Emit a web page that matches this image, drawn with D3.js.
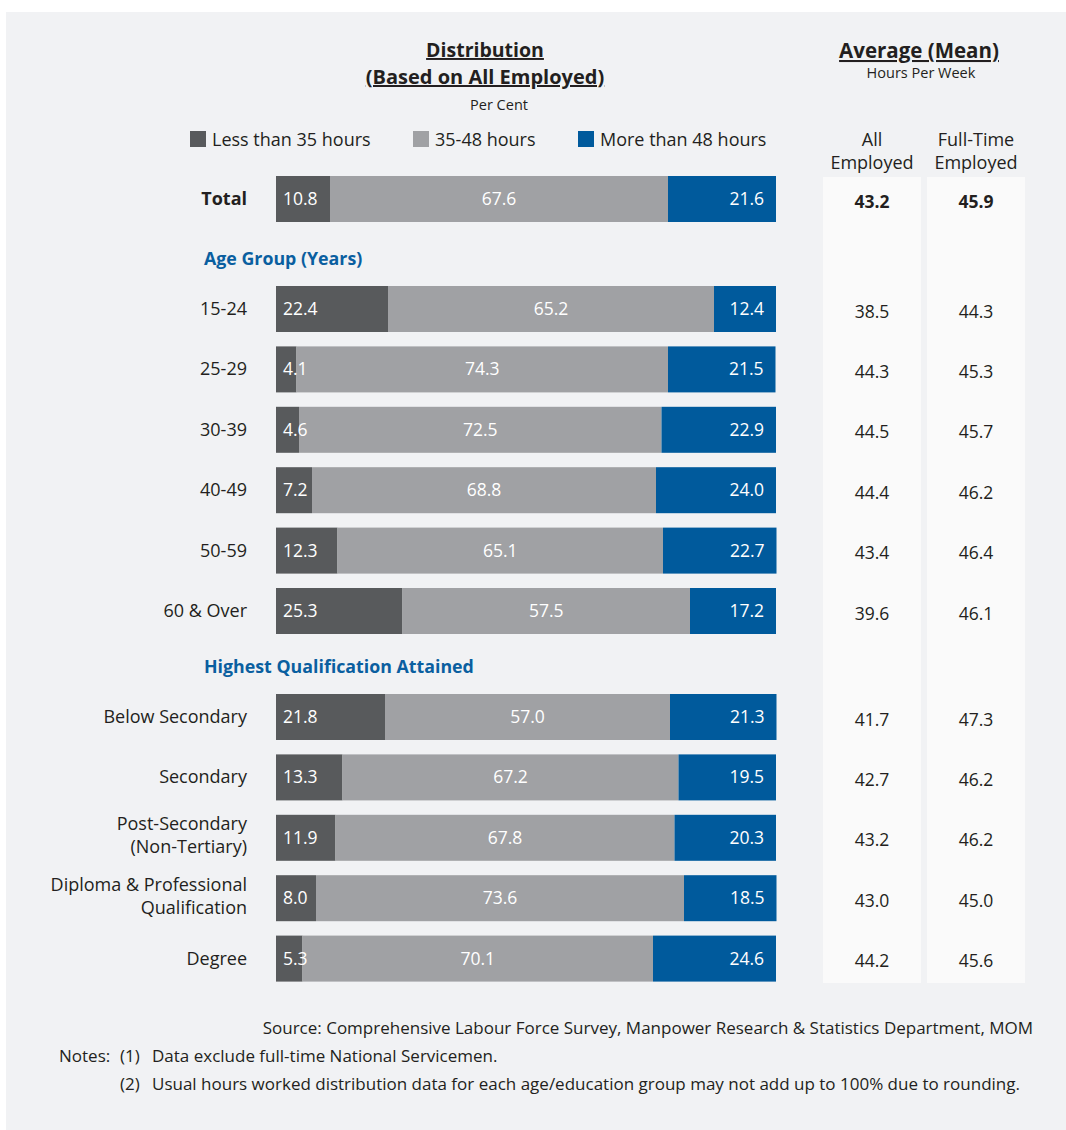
<!DOCTYPE html>
<html><head><meta charset="utf-8">
<script src="https://cdn.jsdelivr.net/npm/d3@7"></script>
<style>
html,body{margin:0;padding:0;background:#fff;}
svg text{font-family:"Open Sans","Noto Sans",sans-serif;}
</style></head>
<body>
<svg id="chart" width="1066" height="1130"></svg>
<script>
// ---- data ----
const categories = ["Total","15-24","25-29","30-39","40-49","50-59","60 & Over",
  "Below Secondary","Secondary","Post-Secondary\n(Non-Tertiary)","Diploma & Professional\nQualification","Degree"];
const groups = ["", "Age Group (Years)","Age Group (Years)","Age Group (Years)","Age Group (Years)","Age Group (Years)","Age Group (Years)",
  "Highest Qualification Attained","Highest Qualification Attained","Highest Qualification Attained","Highest Qualification Attained","Highest Qualification Attained"];
const lessThan35 = [10.8,22.4,4.1,4.6,7.2,12.3,25.3,21.8,13.3,11.9,8.0,5.3];
const hours35to48 = [67.6,65.2,74.3,72.5,68.8,65.1,57.5,57.0,67.2,67.8,73.6,70.1];
const moreThan48 = [21.6,12.4,21.5,22.9,24.0,22.7,17.2,21.3,19.5,20.3,18.5,24.6];
const allEmployed = [43.2,38.5,44.3,44.5,44.4,43.4,39.6,41.7,42.7,43.2,43.0,44.2];
const fullTimeEmployed = [45.9,44.3,45.3,45.7,46.2,46.4,46.1,47.3,46.2,46.2,45.0,45.6];
const seriesNames = ["Less than 35 hours","35-48 hours","More than 48 hours"];

// ---- styles ----
const colors = ["#585a5c","#a0a1a4","#005a9c"];
const textCol = "#231f20";
const blue = "#0a5fa0";

const svg = d3.select("#chart");
svg.append("rect").attr("x",6).attr("y",12).attr("width",1060).attr("height",1118).attr("fill","#f1f2f4");

const x = d3.scaleLinear().domain([0,100]).range([276,776]);
const barH = 46;

// layout rows (centers)
const ys = [];
let y = 199, prevGroup = "", groupCount = 0;
categories.forEach((c,i)=>{
  if(i>0){
    if(groups[i]!==prevGroup){ y += (groupCount===0 ? 110 : 106); groupCount++; } else { y += 60.4; }
  }
  ys.push(y); prevGroup = groups[i];
});
const headings = [];
categories.forEach((c,i)=>{ if(groups[i] && (i===0 || groups[i]!==groups[i-1])) headings.push({name:groups[i], y: ys[i]-50}); });

// right columns background
const colX = [872, 976];
colX.forEach(cx=>{
  svg.append("rect").attr("x",cx-49).attr("y",177).attr("width",98).attr("height",806).attr("fill","#fafafa");
});

// titles
svg.append("text").attr("x",485).attr("y",57).attr("text-anchor","middle")
  .attr("font-size",19.5).attr("font-weight","bold").attr("fill",textCol).attr("text-decoration","underline").text("Distribution");
svg.append("text").attr("x",485).attr("y",84).attr("text-anchor","middle")
  .attr("font-size",20).attr("font-weight","bold").attr("fill",textCol).attr("text-decoration","underline").text("(Based on All Employed)");
svg.append("text").attr("x",499).attr("y",110).attr("text-anchor","middle").attr("font-size",14.5).attr("fill",textCol).text("Per Cent");
svg.append("text").attr("x",919).attr("y",58).attr("text-anchor","middle")
  .attr("font-size",20.5).attr("font-weight","bold").attr("fill",textCol).attr("text-decoration","underline").text("Average (Mean)");
svg.append("text").attr("x",921).attr("y",78).attr("text-anchor","middle").attr("font-size",14.5).attr("fill",textCol).text("Hours Per Week");

// legend
const legX = [190,413,578];
seriesNames.forEach((n,i)=>{
  svg.append("rect").attr("x",legX[i]).attr("y",131).attr("width",16).attr("height",16).attr("fill",colors[i]);
  svg.append("text").attr("x",legX[i]+22).attr("y",145.5).attr("font-size",18).attr("fill",textCol).text(n);
});
// column headers
[["All","Employed"],["Full-Time","Employed"]].forEach((h,i)=>{
  h.forEach((s,j)=>{
    svg.append("text").attr("x",colX[i]).attr("y",146+j*23).attr("text-anchor","middle").attr("font-size",18).attr("fill",textCol).text(s);
  });
});

// headings
headings.forEach(h=>{
  svg.append("text").attr("x",204).attr("y",h.y+6).attr("font-size",17.8).attr("font-weight","bold").attr("fill",blue).text(h.name);
});

// bars
const stackData = categories.map((c,i)=>({cat:c, a:lessThan35[i], b:hours35to48[i], c:moreThan48[i], i}));
const stack = d3.stack().keys(["a","b","c"])(stackData);
stack.forEach((layer,k)=>{
  svg.append("g").selectAll("rect").data(layer).join("rect")
    .attr("x",d=>x(d[0])).attr("width",d=>x(d[1])-x(d[0]))
    .attr("y",d=>ys[d.data.i]-barH/2).attr("height",barH).attr("fill",colors[k]);
});
stack.forEach((layer,k)=>{
  svg.append("g").selectAll("text").data(layer).join("text")
    .attr("x",d=> k===0 ? x(d[0])+7 : k===1 ? (x(d[0])+x(d[1]))/2 : x(d[1])-12)
    .attr("text-anchor", k===0?"start":k===1?"middle":"end")
    .attr("y",d=>ys[d.data.i]+6)
    .attr("font-size",17.5).attr("fill","#fff")
    .text(d=>(d[1]-d[0]).toFixed(1));
});

// category labels
categories.forEach((c,i)=>{
  const lines = c.split("\n");
  const t = svg.append("text").attr("x",247).attr("text-anchor","end").attr("font-size",18)
    .attr("fill",textCol).attr("font-weight", i===0?"bold":"normal");
  lines.forEach((l,j)=>{
    t.append("tspan").attr("x",247).attr("y", ys[i]+6 + (j - (lines.length-1)/2)*23 - (lines.length>1?2:0)).text(l);
  });
});

// right values
[allEmployed, fullTimeEmployed].forEach((arr,k)=>{
  svg.append("g").selectAll("text").data(arr).join("text")
    .attr("x",colX[k]).attr("y",(d,i)=>ys[i]+8.5).attr("text-anchor","middle")
    .attr("font-size",17.5).attr("font-weight",(d,i)=>i===0?"bold":"normal").attr("fill",textCol)
    .text(d=>d.toFixed(1));
});

// footer
const fs = 17;
svg.append("text").attr("x",1033).attr("y",1034).attr("text-anchor","end").attr("font-size",fs).attr("fill",textCol)
  .text("Source: Comprehensive Labour Force Survey, Manpower Research & Statistics Department, MOM");
svg.append("text").attr("x",59).attr("y",1062).attr("font-size",fs).attr("fill",textCol).text("Notes:");
svg.append("text").attr("x",120).attr("y",1062).attr("font-size",fs).attr("fill",textCol).text("(1)");
svg.append("text").attr("x",152).attr("y",1062).attr("font-size",fs).attr("fill",textCol).text("Data exclude full-time National Servicemen.");
svg.append("text").attr("x",120).attr("y",1090).attr("font-size",fs).attr("fill",textCol).text("(2)");
svg.append("text").attr("x",152).attr("y",1090).attr("font-size",fs).attr("fill",textCol).text("Usual hours worked distribution data for each age/education group may not add up to 100% due to rounding.");
</script>
</body></html>
